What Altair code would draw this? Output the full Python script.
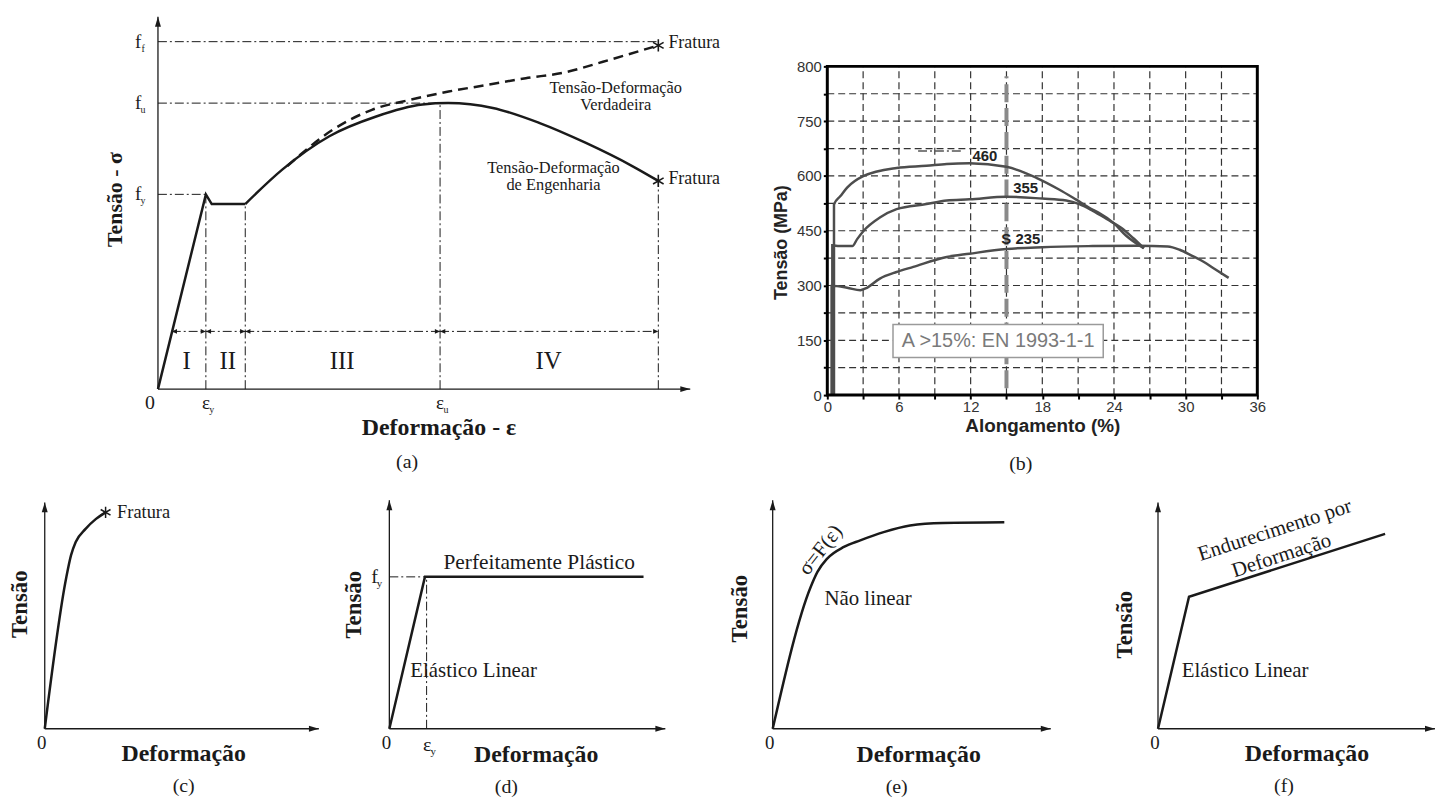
import altair as alt
import pandas as pd

SERIF = "Liberation Serif"
SANS = "Liberation Sans"
INK = "#1a1a1a"

ARROW_UP = "M0,0L-0.3,1L0.3,1Z"
ARROW_RIGHT = "M0,0L-1,-0.3L-1,0.3Z"
STAR = "M0,-1L0,1M-0.87,-0.5L0.87,0.5M-0.87,0.5L0.87,-0.5"
DASHDOT = [9, 3, 2, 3]

# ---------------- panel (a) data ----------------
a_elastic_x = [0, 9.0, 10.1, 16.4]
a_elastic_y = [0, 52.3, 49.7, 49.7]
a_eng_x = [16.4, 23.4, 32.2, 41.0, 49.7, 54.5, 62.9, 71.6, 80.4, 89.1, 94.0]
a_eng_y = [49.7, 59.0, 67.9, 73.2, 76.4, 76.8, 75.5, 71.5, 66.1, 59.9, 55.9]
a_true_x = [24.3, 32.9, 40.2, 47.4, 54.6, 61.9, 69.1, 76.3, 83.6, 94.0]
a_true_y = [59.9, 69.7, 75.0, 77.7, 79.9, 81.7, 83.5, 85.0, 87.9, 92.3]
a_fracture_x = [94.0, 94.0]
a_fracture_y = [92.3, 55.9]
a_hline_y = [93.3, 76.8, 52.3]
a_hline_xend = [94.0, 53.0, 9.0]
a_vline_x = [9.0, 16.4, 53.0, 94.0]
a_vline_ytop = [52.3, 49.7, 76.8, 55.9]
a_zone_start = [2.6, 9.0, 16.4, 53.0]
a_zone_end = [9.0, 16.4, 53.0, 94.0]
a_zone_y = 15.5
a_zone_labels = ["I", "II", "III", "IV"]
a_zone_label_x = [5.4, 13.1, 34.6, 73.4]
a_ylabel_sub = ["f", "u", "y"]
a_xlabel_x = [9.0, 53.0]
a_xlabel_sub = ["y", "u"]

# ---------------- panel (b) data ----------------
b_s460_x = [0.56, 0.56, 1.1, 1.66, 3.05, 5.8, 8.3, 10.0, 11.9, 15.0, 17.5, 19.4, 20.8, 22.2, 22.7, 24.0, 25.0, 26.5]
b_s460_y = [0, 522, 545, 568, 600, 622, 628, 633, 635, 625, 595, 563, 536, 508, 500, 470, 437, 402]
b_s355_x = [0.42, 0.42, 1.0, 2.1, 2.5, 3.05, 4.4, 5.8, 8.3, 10.0, 11.9, 15.0, 18.0, 20.0, 21.1, 22.2, 23.5, 24.6, 25.6, 26.5]
b_s355_y = [0, 410, 408, 408, 427, 450, 486, 509, 523, 533, 536, 543, 538, 533, 523, 505, 480, 458, 430, 402]
b_s235_x = [0.36, 0.36, 1.66, 2.77, 3.2, 4.4, 5.8, 7.2, 10.0, 11.9, 15.0, 18.0, 22.2, 26.0, 28.5, 29.5, 30.5, 31.5, 32.4, 33.6]
b_s235_y = [0, 299, 294, 287, 292, 319, 337, 351, 378, 387, 400, 405, 408, 409, 407, 398, 382, 365, 346, 321]
b_labels = ["460", "355", "S 235"]
b_label_x = [13.2, 16.6, 16.2]
b_label_y = [654, 568, 427]
b_xtick_vals = [0, 3, 6, 9, 12, 15, 18, 21, 24, 27, 30, 33, 36]
b_xlabel_vals = [0, 6, 12, 18, 24, 30, 36]
b_ytick_vals = [0, 75, 150, 225, 300, 375, 450, 525, 600, 675, 750, 825, 900]
b_ylabel_vals = [0, 150, 300, 450, 600, 750, 900]
b_ylabel_text = ["0", "150", "300", "450", "600", "750", "800"]
b_grid_x = [3, 6, 9, 12, 15, 18, 21, 24, 27, 30, 33]
b_grid_y = [75, 150, 225, 300, 375, 450, 525, 600, 675, 750, 825]

# ---------------- bottom panels data ----------------
c_curve_x = [0, 7.8, 9.6, 11.3, 14.9, 18.6, 22.2]
c_curve_y = [0, 66.5, 76.7, 82.5, 88.3, 92.6, 95.6]
d_curve_x = [0, 12.9, 92.1]
d_curve_y = [0, 66.5, 66.5]
e_curve_x = [0, 13.7, 16.1, 19.6, 25.6, 31.5, 39.9, 49.4, 61.3, 83.3]
e_curve_y = [0, 62.2, 68.7, 74.5, 79.6, 82.5, 86.1, 89.0, 90.1, 90.4]
f_curve_x = [0, 11.2, 82.0]
f_curve_y = [0, 58.3, 86.1]


def sc(lo, hi):
    return alt.Scale(domain=[lo, hi], nice=False, zero=False)


AXES = {}


def enc(xs, ys):
    xa_ = AXES.get(id(xs), None)
    ya_ = AXES.get(id(ys), None)
    return dict(x=alt.X("x:Q", scale=xs, axis=xa_), y=alt.Y("y:Q", scale=ys, axis=ya_))


def line(xv, yv, xs, ys, interp="linear", color=INK, **kw):
    df = pd.DataFrame({"x": xv, "y": yv, "i": list(range(len(xv)))})
    return alt.Chart(df).mark_line(interpolate=interp, color=color, **kw).encode(
        **enc(xs, ys), order="i:Q")


def segs(x0, y0, x1, y1, xs, ys, color=INK, **kw):
    df = pd.DataFrame({"x": x0, "y": y0, "x2": x1, "y2": y1})
    return alt.Chart(df).mark_rule(color=color, **kw).encode(
        **enc(xs, ys), x2="x2:Q", y2="y2:Q")


def pts(xv, yv, xs, ys, shape, size, filled=True, **kw):
    df = pd.DataFrame({"x": xv, "y": yv})
    return alt.Chart(df).mark_point(shape=shape, size=size, filled=filled, opacity=1,
                                    color=INK, **kw).encode(**enc(xs, ys))


def text(xv, yv, tv, xs, ys, color=INK, **kw):
    df = pd.DataFrame({"x": xv, "y": yv, "t": tv})
    return alt.Chart(df).mark_text(color=color, **kw).encode(**enc(xs, ys), text="t:N")


def arrows_axes(xs, ys, xmax=100, ymax=100):
    return [
        segs([0, 0], [0, 0], [xmax, 0], [0, ymax], xs, ys, strokeWidth=1.3),
        pts([0], [ymax], xs, ys, ARROW_UP, 400),
        pts([xmax], [0], xs, ys, ARROW_RIGHT, 400),
    ]


# ================= panel (a) =================
xa, ya = sc(-21.27, 100), sc(0, 100)
n = len(a_hline_y)
pa_layers = arrows_axes(xa, ya) + [
    segs([0] * n, a_hline_y, a_hline_xend, a_hline_y, xa, ya, strokeWidth=1, strokeDash=DASHDOT),
    segs(a_vline_x, [0] * 4, a_vline_x, a_vline_ytop, xa, ya, strokeWidth=1, strokeDash=DASHDOT),
    segs(a_zone_start, [a_zone_y] * 4, a_zone_end, [a_zone_y] * 4, xa, ya, strokeWidth=1, strokeDash=DASHDOT),
    pts(a_zone_end, [a_zone_y] * 4, xa, ya, "M0,0L-1,-0.45L-1,0.45Z", 110),
    pts(a_zone_start, [a_zone_y] * 4, xa, ya, "M0,0L1,-0.45L1,0.45Z", 110),
    line(a_elastic_x, a_elastic_y, xa, ya, strokeWidth=2.5),
    line(a_eng_x, a_eng_y, xa, ya, interp="monotone", strokeWidth=2.5),
    line(a_true_x, a_true_y, xa, ya, interp="monotone", strokeWidth=2.5, strokeDash=[10, 6]),
    pts(a_fracture_x, a_fracture_y, xa, ya, STAR, 150, filled=False, strokeWidth=1.6),
    text([95.9, 95.9], [92.8, 56.3], ["Fratura", "Fratura"], xa, ya, font=SERIF, fontSize=18, align="left"),
    text([86.0, 86.0], [80.8, 76.3], ["Tensão-Deformação", "Verdadeira"], xa, ya, font=SERIF, fontSize=16.5),
    text([74.3, 74.3], [59.5, 54.7], ["Tensão-Deformação", "de Engenharia"], xa, ya, font=SERIF, fontSize=16.5),
    text(a_zone_label_x, [7.5] * 4, a_zone_labels, xa, ya, font=SERIF, fontSize=25),
    text([0] * 3, a_hline_y, ["f"] * 3, xa, ya, font=SERIF, fontSize=19, dx=-20),
    text([0] * 3, a_hline_y, a_ylabel_sub, xa, ya, font=SERIF, fontSize=10, dx=-15, dy=7),
    text(a_xlabel_x, [0, 0], ["ε", "ε"], xa, ya, font=SERIF, fontSize=19, dy=14),
    text(a_xlabel_x, [0, 0], a_xlabel_sub, xa, ya, font=SERIF, fontSize=10, dx=6, dy=21),
    text([0], [0], ["0"], xa, ya, font=SERIF, fontSize=20, dx=-8, dy=14),
    text([-8.0], [50.9], ["Tensão - σ"], xa, ya, font=SERIF, fontSize=22, fontWeight="bold", angle=270),
    text([52.8], [-10.4], ["Deformação - ε"], xa, ya, font=SERIF, fontSize=24, fontWeight="bold"),
    text([46.8], [-19.7], ["(a)"], xa, ya, font=SERIF, fontSize=20),
]
panel_a = alt.layer(*pa_layers).properties(width=650, height=375)

# ================= panel (b) =================
xb, yb = sc(0, 36), sc(0, 1036)
x_label_expr = " || ".join(f"datum.value == {v}" for v in b_xlabel_vals)
x_label_expr = f"({x_label_expr}) ? datum.label : ''"
y_label_expr = "''"
for v, t in zip(reversed(b_ylabel_vals), reversed(b_ylabel_text)):
    y_label_expr = f"datum.value == {v} ? '{t}' : ({y_label_expr})"

AXES[id(xb)] = alt.Axis(values=b_xtick_vals, labelExpr=x_label_expr, title="Alongamento (%)",
                        grid=False, domain=False, tickColor="black", tickWidth=2, tickSize=4,
                        labelFont=SANS, labelFontSize=15, labelColor="#333", labelFlush=False,
                        labelOverlap=False, labelPadding=1, titleFont=SANS, titleFontSize=19,
                        titleFontWeight="bold", titleColor="#222", titlePadding=2)
AXES[id(yb)] = alt.Axis(values=b_ytick_vals, labelExpr=y_label_expr, title="Tensão (MPa)",
                        grid=False, domain=False, tickColor="black", tickWidth=2, tickSize=4,
                        labelFont=SANS, labelFontSize=15, labelColor="#333", labelFlush=False,
                        labelOverlap=False, labelPadding=2, titleFont=SANS, titleFontSize=18,
                        titleFontWeight="bold", titleColor="#222", titlePadding=6, titleY=227)


def rect(x0, x1, y0, y1, xs, ys, **kw):
    df = pd.DataFrame({"x": [x0], "x2": [x1], "y": [y0], "y2": [y1]})
    return alt.Chart(df).mark_rect(**kw).encode(**enc(xs, ys), x2="x2:Q", y2="y2:Q")


ng, mg = len(b_grid_x), len(b_grid_y)
GRAY = "#4d4d4d"
pb_layers = [
    segs(b_grid_x, [0] * ng, b_grid_x, [900] * ng, xb, yb, color="#333", strokeWidth=1.2, strokeDash=[7, 4]),
    segs([0] * mg, b_grid_y, [36] * mg, b_grid_y, xb, yb, color="#333", strokeWidth=1.2, strokeDash=[7, 4]),
    segs([15], [19], [15], [873], xb, yb, color="#8a8a8a", strokeWidth=4, strokeDash=[18, 6]),
    rect(5.5, 23.1, 103, 193, xb, yb, fill="white", stroke="#9a9a9a", strokeWidth=1.5),
    text([14.3], [148], ["A >15%: EN 1993-1-1"], xb, yb, color="#7a7a7a", font=SANS, fontSize=20),
    segs([7.6], [668], [11.3], [668], xb, yb, color="#555", strokeWidth=1.5, strokeDash=DASHDOT),
    line(b_s460_x, b_s460_y, xb, yb, interp="monotone", color=GRAY, strokeWidth=2.5),
    line(b_s355_x, b_s355_y, xb, yb, interp="monotone", color=GRAY, strokeWidth=2.5),
    line(b_s235_x, b_s235_y, xb, yb, interp="monotone", color=GRAY, strokeWidth=2.5),
    text(b_label_x, b_label_y, b_labels, xb, yb, color="#222", font=SANS, fontSize=15, fontWeight="bold"),
    rect(0, 36, 0, 900, xb, yb, fillOpacity=0, stroke="black", strokeWidth=3),
    text([16.2], [-190], ["(b)"], xb, yb, font=SERIF, fontSize=20),
]
panel_b = alt.layer(*pb_layers).properties(width=433, height=381)


# ================= bottom panels =================
def bottom_panel(width, xmax, ymax, extra, tens_xy, def_x, lab_x, lab):
    xs, ys = sc(0, xmax), sc(0, ymax)
    layers = arrows_axes(xs, ys) + [e(xs, ys) for e in extra] + [
        text([0], [0], ["0"], xs, ys, font=SERIF, fontSize=19, dx=-3, dy=14),
        text([tens_xy[0]], [tens_xy[1]], ["Tensão"], xs, ys, font=SERIF, fontSize=23,
             fontWeight="bold", angle=270),
        text([def_x], [-11.3], ["Deformação"], xs, ys, font=SERIF, fontSize=24, fontWeight="bold"),
        text([lab_x], [-25.3], [lab], xs, ys, font=SERIF, fontSize=20),
    ]
    return alt.layer(*layers).properties(width=width, height=230)


panel_c = bottom_panel(337, 122.1, 100.9, [
    lambda xs, ys: line(c_curve_x, c_curve_y, xs, ys, interp="monotone", strokeWidth=2.5),
    lambda xs, ys: pts([c_curve_x[-1]], [c_curve_y[-1]], xs, ys, STAR, 130, filled=False, strokeWidth=1.5),
    lambda xs, ys: text([26.4], [95.6], ["Fratura"], xs, ys, font=SERIF, fontSize=18.5, align="left"),
], (-9.1, 55), 50.7, 50.7, "(c)")

panel_d = bottom_panel(376, 135.3, 100, [
    lambda xs, ys: segs([0], [66.5], [12.9], [66.5], xs, ys, strokeWidth=1, strokeDash=DASHDOT),
    lambda xs, ys: segs([13.5], [0], [13.5], [66.5], xs, ys, strokeWidth=1, strokeDash=DASHDOT),
    lambda xs, ys: line(d_curve_x, d_curve_y, xs, ys, strokeWidth=2.5),
    lambda xs, ys: text([54.3], [72.6], ["Perfeitamente Plástico"], xs, ys, font=SERIF, fontSize=21.5),
    lambda xs, ys: text([7.6], [25.2], ["Elástico Linear"], xs, ys, font=SERIF, fontSize=21, align="left"),
    lambda xs, ys: text([0], [66.5], ["f"], xs, ys, font=SERIF, fontSize=20, dx=-15),
    lambda xs, ys: text([0], [66.5], ["y"], xs, ys, font=SERIF, fontSize=11, dx=-10, dy=7),
    lambda xs, ys: text([13.7], [0], ["ε"], xs, ys, font=SERIF, fontSize=20, dy=16),
    lambda xs, ys: text([13.7], [0], ["y"], xs, ys, font=SERIF, fontSize=11, dx=6, dy=23),
], (-12.9, 54.3), 53.2, 42.4, "(d)")

panel_e = bottom_panel(378, 135.0, 100, [
    lambda xs, ys: line(e_curve_x, e_curve_y, xs, ys, interp="monotone", strokeWidth=2.5),
    lambda xs, ys: text([18.6], [57.0], ["Não linear"], xs, ys, font=SERIF, fontSize=21, align="left"),
    lambda xs, ys: text([17.3], [78.2], ["σ=F(ε)"], xs, ys, font=SERIF, fontSize=21, angle=308),
], (-11.8, 52.6), 52.5, 44.6, "(e)")

panel_f = bottom_panel(285, 102.2, 100.9, [
    lambda xs, ys: line(f_curve_x, f_curve_y, xs, ys, strokeWidth=2.5),
    lambda xs, ys: text([8.6], [25.4], ["Elástico Linear"], xs, ys, font=SERIF, fontSize=21, align="left"),
    lambda xs, ys: text([42.2], [87.6], ["Endurecimento por"], xs, ys, font=SERIF, fontSize=21, angle=342),
    lambda xs, ys: text([44.6], [76.4], ["Deformação"], xs, ys, font=SERIF, fontSize=21, angle=342),
], (-11.8, 46), 53.8, 45.5, "(f)")

top = alt.hconcat(panel_a, panel_b, spacing=138, bounds="flush")
bottom = alt.hconcat(panel_c, panel_d, panel_e, panel_f, spacing=10, bounds="flush")
chart = alt.vconcat(top, bottom, spacing=20).properties(
    padding={"left": 0, "top": 5, "right": 5, "bottom": 5},
    background="white",
).configure_view(stroke=None)

chart.save("out.html", embed_options={"renderer": "svg", "actions": False})
